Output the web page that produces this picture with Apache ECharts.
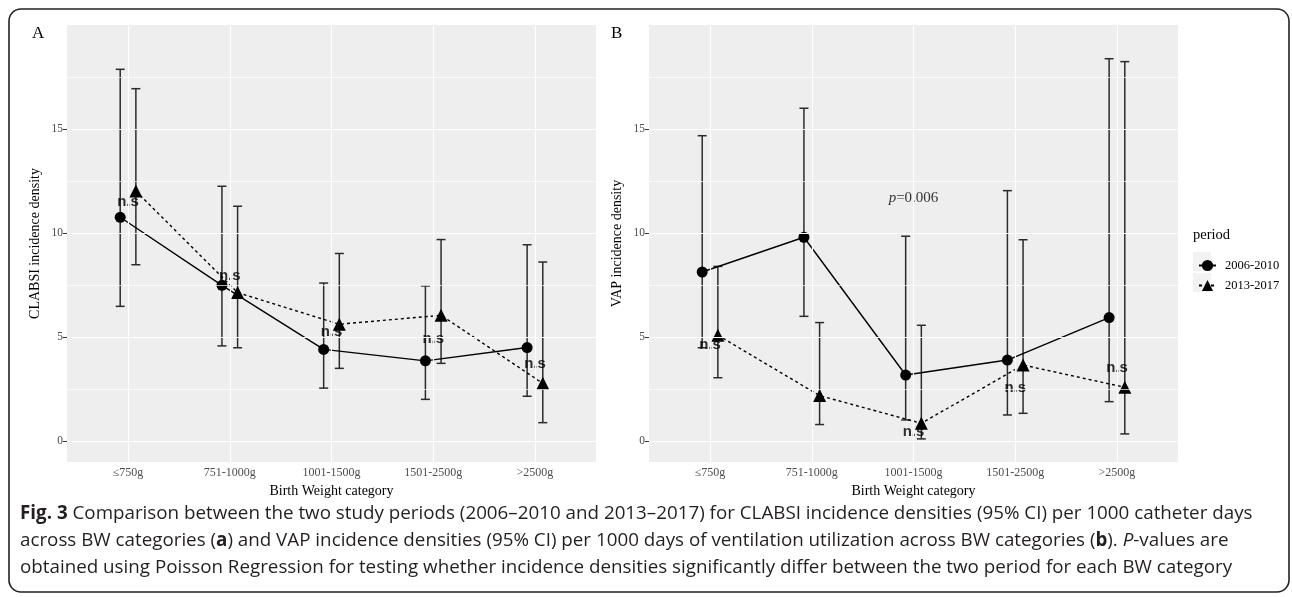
<!DOCTYPE html>
<html>
<head>
<meta charset="utf-8">
<script src="https://cdn.jsdelivr.net/npm/echarts@6/dist/echarts.min.js"></script>
<style>
html,body{margin:0;padding:0;background:#fff;}
#chart{width:1292px;height:597px;}
</style>
</head>
<body>
<div id="chart"></div>
<script>
// ---------------- data ----------------
const categories = ['≤750g', '751-1000g', '1001-1500g', '1501-2500g', '>2500g'];
const periods = ['2006-2010', '2013-2017'];
const yTicks = [0, 5, 10, 15];
const yMinorLines = [2.5, 7.5, 12.5, 17.5];

// Panel A: CLABSI incidence density
const clabsi0610 = [10.76, 7.49, 4.41, 3.86, 4.50];
const clabsi0610Lo = [6.48, 4.58, 2.55, 2.01, 2.16];
const clabsi0610Hi = [17.87, 12.25, 7.60, 7.46, 9.44];
const clabsi1317 = [12.02, 7.14, 5.62, 6.05, 2.78];
const clabsi1317Lo = [8.48, 4.49, 3.50, 3.74, 0.89];
const clabsi1317Hi = [16.94, 11.29, 9.02, 9.69, 8.61];

// Panel B: VAP incidence density
const vap0610 = [8.13, 9.80, 3.18, 3.90, 5.94];
const vap0610Lo = [4.49, 6.00, 1.02, 1.26, 1.90];
const vap0610Hi = [14.68, 16.00, 9.85, 12.04, 18.38];
const vap1317 = [5.09, 2.19, 0.86, 3.66, 2.59];
const vap1317Lo = [3.05, 0.80, 0.11, 1.34, 0.35];
const vap1317Hi = [8.40, 5.70, 5.57, 9.68, 18.24];

// significance annotations (y position of label for each category; null = none)
const nsA = [11.48, 7.94, 5.25, 4.93, 3.70];
const nsB = [4.61, null, 0.43, 2.57, 3.53];
const pValueText = 'p=0.006';
const pValueCat = 2;
const pValueY = 11.67;

const captionLines = [
  '{b|Fig. 3} Comparison between the two study periods (2006–2010 and 2013–2017) for CLABSI incidence densities (95% CI) per 1000 catheter days',
  'across BW categories ({b|a}) and VAP incidence densities (95% CI) per 1000 days of ventilation utilization across BW categories ({b|b}). {i|P}-values are',
  'obtained using Poisson Regression for testing whether incidence densities significantly differ between the two period for each BW category'
];

// ---------------- build ----------------
const SERIF = '"Liberation Serif", "DejaVu Serif", serif';
const SANS = '"Liberation Sans", Arial, sans-serif';
const CAP = '"Open Sans", sans-serif';
const CAP_SIZE = 18.8;
const DODGE = 0.077;
const catPos = categories.map((c, i) => i + 1);

function pts(vals, off) { return vals.map((v, i) => [i + 1 + off, v]); }
function bars(lo, hi, off) { return lo.map((l, i) => [i + 1 + off, l, hi[i]]); }

function errRender(params, api) {
  const x = api.value(0);
  const a = api.coord([x, api.value(1)]);
  const b = api.coord([x, api.value(2)]);
  const hw = 4.5;
  const st = { stroke: '#2b2b2b', lineWidth: 1.5 };
  return {
    type: 'group',
    children: [
      { type: 'line', shape: { x1: a[0], y1: a[1], x2: b[0], y2: b[1] }, style: st },
      { type: 'line', shape: { x1: a[0] - hw, y1: a[1], x2: a[0] + hw, y2: a[1] }, style: st },
      { type: 'line', shape: { x1: b[0] - hw, y1: b[1], x2: b[0] + hw, y2: b[1] }, style: st }
    ]
  };
}

function gridLineSeries(idx) {
  const data = [];
  yTicks.forEach(v => data.push({ yAxis: v, lineStyle: { width: 1.2 } }));
  yMinorLines.forEach(v => data.push({ yAxis: v, lineStyle: { width: 0.7 } }));
  catPos.forEach(v => data.push({ xAxis: v, lineStyle: { width: 1.2 } }));
  return {
    type: 'line', xAxisIndex: idx, yAxisIndex: idx, data: [], z: 0, silent: true,
    markLine: {
      silent: true, symbol: ['none', 'none'], animation: false,
      label: { show: false },
      lineStyle: { color: '#ffffff', type: 'solid', width: 1 },
      emphasis: { disabled: true },
      data: data
    }
  };
}

function panelSeries(idx, m0, lo0, hi0, m1, lo1, hi1, ns) {
  const s = [gridLineSeries(idx)];
  s.push({ type: 'custom', xAxisIndex: idx, yAxisIndex: idx, renderItem: errRender, data: bars(lo0, hi0, -DODGE), z: 2, silent: true, encode: { x: 0, y: [1, 2] } });
  s.push({ type: 'custom', xAxisIndex: idx, yAxisIndex: idx, renderItem: errRender, data: bars(lo1, hi1, DODGE), z: 2, silent: true, encode: { x: 0, y: [1, 2] } });
  s.push({
    name: periods[0], type: 'line', xAxisIndex: idx, yAxisIndex: idx, data: pts(m0, -DODGE),
    symbol: 'circle', symbolSize: 11, z: 3, silent: true,
    itemStyle: { color: '#000' }, lineStyle: { color: '#000', width: 1.4, type: 'solid' }
  });
  s.push({
    name: periods[1], type: 'line', xAxisIndex: idx, yAxisIndex: idx, data: pts(m1, DODGE),
    symbol: 'triangle', symbolSize: 13, z: 3, silent: true,
    itemStyle: { color: '#000' }, lineStyle: { color: '#000', width: 1.4, type: [3, 3] }
  });
  s.push({
    type: 'scatter', xAxisIndex: idx, yAxisIndex: idx, symbolSize: 0, z: 4, silent: true,
    data: ns.map((v, i) => v == null ? null : [i + 1, v]).filter(d => d),
    label: { show: true, position: 'inside', formatter: 'n.s', fontFamily: SANS, fontWeight: 'bold', fontSize: 15, color: '#000' }
  });
  return s;
}

function xAxis(idx) {
  return {
    type: 'value', gridIndex: idx, min: 0.4, max: 5.6,
    axisLine: { show: false }, splitLine: { show: false },
    axisTick: { show: true, customValues: catPos, length: 4, lineStyle: { color: '#333', width: 1 } },
    axisLabel: { customValues: catPos, formatter: v => categories[Math.round(v) - 1], color: '#4D4D4D', fontFamily: SERIF, fontSize: 12, margin: 5 },
    name: 'Birth Weight category', nameLocation: 'middle', nameGap: 22,
    nameTextStyle: { fontFamily: SERIF, fontSize: 14, color: '#000' }
  };
}
function yAxis(idx, name) {
  return {
    type: 'value', gridIndex: idx, min: -1, max: 20,
    axisLine: { show: false }, splitLine: { show: false },
    axisTick: { show: true, customValues: yTicks, length: 4, lineStyle: { color: '#333', width: 1 } },
    axisLabel: { customValues: yTicks, color: '#4D4D4D', fontFamily: SERIF, fontSize: 11.5, margin: 4 },
    name: name, nameLocation: 'middle', nameGap: 25,
    nameTextStyle: { fontFamily: SERIF, fontSize: 14, color: '#000' }
  };
}

const series = [].concat(
  panelSeries(0, clabsi0610, clabsi0610Lo, clabsi0610Hi, clabsi1317, clabsi1317Lo, clabsi1317Hi, nsA),
  panelSeries(1, vap0610, vap0610Lo, vap0610Hi, vap1317, vap1317Lo, vap1317Hi, nsB)
);
series.push({
  type: 'scatter', xAxisIndex: 1, yAxisIndex: 1, symbolSize: 0, z: 4, silent: true,
  data: [[pValueCat + 1, pValueY]],
  label: {
    show: true, position: 'inside',
    formatter: '{i|' + pValueText.slice(0, 1) + '}{n|' + pValueText.slice(1) + '}',
    rich: { i: { fontFamily: SERIF, fontStyle: 'italic', fontSize: 15, color: '#000' }, n: { fontFamily: SERIF, fontSize: 15, color: '#000' } }
  }
});

const chart = echarts.init(document.getElementById('chart'), null, { renderer: 'canvas' });
chart.setOption({
  animation: false,
  backgroundColor: '#fff',
  grid: [
    { left: 67, right: 696, top: 25, bottom: 135, show: true, backgroundColor: '#EEEEEE', borderWidth: 0 },
    { left: 649, right: 114, top: 25, bottom: 135, show: true, backgroundColor: '#EEEEEE', borderWidth: 0 }
  ],
  xAxis: [xAxis(0), xAxis(1)],
  yAxis: [yAxis(0, 'CLABSI incidence density'), yAxis(1, 'VAP incidence density')],
  legend: {
    data: periods, orient: 'vertical', left: 1193, top: 254, itemWidth: 17, itemHeight: 14, itemGap: 7,
    textStyle: { fontFamily: SERIF, fontSize: 12.5, color: '#000', padding: [0, 0, 0, 4] }, selectedMode: false
  },
  graphic: [
    { type: 'rect', silent: true, z: -1, shape: { x: 9, y: 9, width: 1280, height: 583, r: 12 }, style: { fill: 'none', stroke: '#222', lineWidth: 1.6 } },
    { type: 'rect', silent: true, z: -1, shape: { x: 1193, y: 252, width: 18, height: 19 }, style: { fill: '#F2F2F2' } },
    { type: 'rect', silent: true, z: -1, shape: { x: 1193, y: 273, width: 18, height: 19 }, style: { fill: '#F2F2F2' } },
    { type: 'text', silent: true, left: 1193, top: 228, style: { text: 'period', font: '14.5px ' + SERIF, fill: '#000' } },
    { type: 'text', silent: true, left: 32, top: 25, style: { text: 'A', font: '17px ' + SERIF, fill: '#000' } },
    { type: 'text', silent: true, left: 611, top: 25, style: { text: 'B', font: '17px ' + SERIF, fill: '#000' } },
    {
      type: 'text', silent: true, left: 20, top: 500,
      style: {
        text: captionLines.join('\n'), fontFamily: CAP, fontSize: CAP_SIZE, fill: '#231F20', lineHeight: 27,
        rich: {
          b: { fontWeight: 'bold', fontFamily: CAP, fontSize: CAP_SIZE, lineHeight: 27 },
          i: { fontStyle: 'italic', fontFamily: CAP, fontSize: CAP_SIZE, lineHeight: 27 }
        }
      }
    }
  ],
  series: series
});
</script>
</body>
</html>
